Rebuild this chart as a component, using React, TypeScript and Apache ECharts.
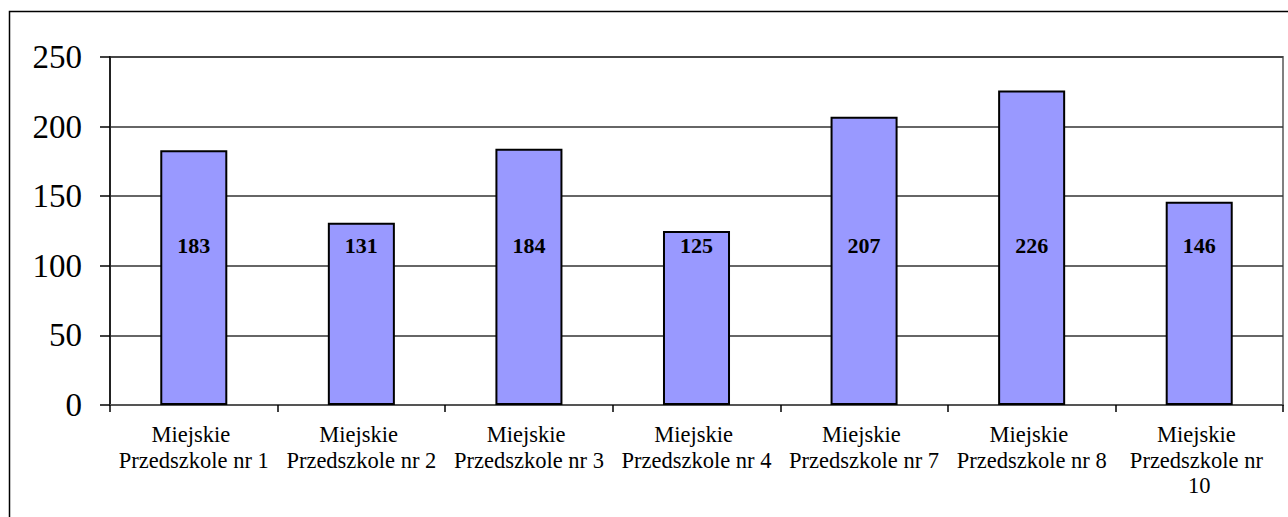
import React, { useEffect, useRef } from "react";
import * as echarts from "echarts";

const categories = [
  "Miejskie Przedszkole nr 1",
  "Miejskie Przedszkole nr 2",
  "Miejskie Przedszkole nr 3",
  "Miejskie Przedszkole nr 4",
  "Miejskie Przedszkole nr 7",
  "Miejskie Przedszkole nr 8",
  "Miejskie Przedszkole nr 10",
];
const values = [183, 131, 184, 125, 207, 226, 146];
const yTicks = [0, 50, 100, 150, 200, 250];

const FONT = "Liberation Serif";

export default function App() {
  const ref = useRef<HTMLDivElement>(null);
  useEffect(() => {
    document.body.style.margin = "0";
    const chart = echarts.init(ref.current!, null, { renderer: "svg" });
    chart.setOption({
      animation: false,
      backgroundColor: "#ffffff",
      textStyle: { fontFamily: FONT },
      graphic: [
        {
          type: "rect",
          shape: { x: 9.5, y: 11.5, width: 1400, height: 700 },
          style: { fill: "none", stroke: "#000", lineWidth: 1.5 },
          silent: true,
          z: -10,
        },
      ],
      grid: { left: 110, right: 5, top: 57, bottom: 112, show: true, borderColor: "#808080", borderWidth: 2, backgroundColor: "transparent" },
      xAxis: {
        type: "category",
        data: categories,
        axisLine: { show: true, lineStyle: { color: "#555", width: 2 } },
        axisTick: { show: true, length: 7, lineStyle: { color: "#000", width: 1.5 } },
        axisLabel: {
          interval: 0,
          margin: 17,
          color: "#000",
          fontFamily: FONT,
          fontSize: 22.5,
          lineHeight: 25.5,
          width: 158,
          overflow: "break",
          align: "center",
        },
        splitLine: { show: false },
      },
      yAxis: {
        type: "value",
        min: yTicks[0],
        max: yTicks[yTicks.length - 1],
        interval: 50,
        axisLine: { show: true, lineStyle: { color: "#222", width: 2 } },
        axisTick: { show: true, length: 10, lineStyle: { color: "#000", width: 1.5 } },
        axisLabel: { margin: 28, color: "#000", fontFamily: FONT, fontSize: 33 },
        splitLine: { show: true, lineStyle: { color: "#333", width: 1.5 } },
      },
      series: [
        {
          type: "bar",
          data: values,
          barWidth: "40%",
          itemStyle: { color: "#9999FF", borderColor: "#000", borderWidth: 2 },
          label: {
            show: true,
            position: "insideBottom",
            distance: 149,
            color: "#000",
            fontFamily: FONT,
            fontSize: 22,
            fontWeight: "bold",
          },
        },
      ],
    });
    return () => chart.dispose();
  }, []);
  return <div ref={ref} style={{ width: 1288, height: 517 }} />;
}
